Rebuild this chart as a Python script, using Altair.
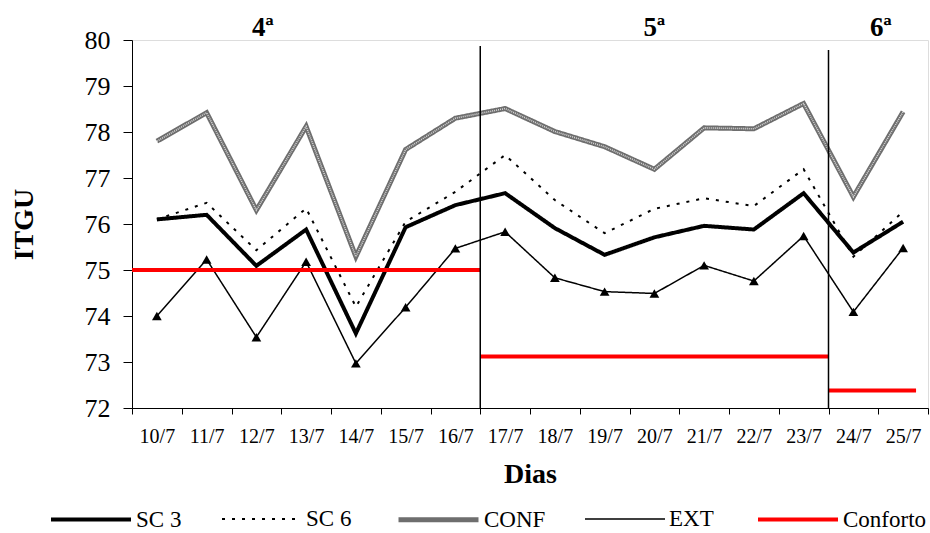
import altair as alt
import pandas as pd

dias = ["10/7", "11/7", "12/7", "13/7", "14/7", "15/7", "16/7", "17/7",
        "18/7", "19/7", "20/7", "21/7", "22/7", "23/7", "24/7", "25/7"]

sc3 = [76.10, 76.20, 75.09, 75.88, 73.62, 75.93, 76.41, 76.67,
       75.91, 75.33, 75.71, 75.96, 75.88, 76.67, 75.38, 76.05]
sc6 = [76.10, 76.46, 75.43, 76.34, 74.20, 76.05, 76.70, 77.50,
       76.52, 75.80, 76.33, 76.56, 76.39, 77.19, 75.29, 76.27]
conf = [77.80, 78.42, 76.30, 78.12, 75.29, 77.62, 78.30, 78.51,
        78.01, 77.68, 77.19, 78.09, 78.07, 78.62, 76.59, 78.44]
ext = [74.00, 75.23, 73.54, 75.18, 72.97, 74.19, 75.47, 75.83,
       74.83, 74.53, 74.49, 75.10, 74.76, 75.74, 74.09, 75.48]

# Conforto (comfort limit) per phase
conf_ini = ["10/7", "17/7"]
conf_fim = ["16/7", "23/7"]
conf_val = [75.0, 73.12]
conf6_ini = ["24/7"]
conf6_fim = ["25/7"]
conf6_val = [72.38]

# phase separators
sep_dia = ["17/7", "24/7"]
sep_top = [79.87, 79.78]

# phase labels
fase_txt = ["4ª", "5ª", "6ª"]
fase_dia = ["12/7", "20/7", "25/7"]

series = ["SC 3", "SC 6", "CONF", "EXT", "Conforto"]
colors = ["#000000", "#000000", "#6e6e6e", "#000000", "#ff0000"]
widths = [4, 2, 5, 1.5, 4]
dashes = [[1, 0], [3, 7], [1, 0], [1, 0], [1, 0]]

rows = []
for name, vals in [("SC 3", sc3), ("SC 6", sc6), ("CONF", conf), ("EXT", ext)]:
    for d, v in zip(dias, vals):
        rows.append({"dia": d, "valor": v, "serie": name})
df = pd.DataFrame(rows)
df_ext = df[df.serie == "EXT"]
df_confline = df[df.serie == "CONF"]

df_conf = pd.DataFrame({"dia": conf_ini, "fim": conf_fim, "valor": conf_val, "serie": "Conforto"})
df_conf6 = pd.DataFrame({"dia": conf6_ini, "fim": conf6_fim, "valor": conf6_val, "serie": "Conforto"})
df_sep = pd.DataFrame({"dia": sep_dia, "top": sep_top, "bot": [72, 72]})

xscale = alt.Scale(domain=dias, type="band", paddingInner=0, paddingOuter=0)
yscale = alt.Scale(domain=[72, 80], nice=False, zero=False)

color = alt.Color("serie:N", scale=alt.Scale(domain=series, range=colors),
                  legend=alt.Legend(title=None, orient="none", direction="horizontal",
                                    legendX=-83, legendY=437, symbolType="stroke",
                                    symbolSize=6400, labelFont="Liberation Serif",
                                    labelFontSize=23, labelColor="black",
                                    labelOffset=3, columnPadding=36, padding=0,
                                    symbolLimit=10, labelLimit=200))
sdash = alt.StrokeDash("serie:N", scale=alt.Scale(domain=series, range=dashes), legend=None)
swidth = alt.StrokeWidth("serie:N", scale=alt.Scale(type="ordinal", domain=series, range=widths),
                         legend=None)

xaxis = alt.Axis(title="Dias", tickBand="extent", labelAngle=0, tickSize=6,
                 labelFont="Liberation Serif", labelFontSize=20, labelColor="black",
                 labelPadding=12, titleFont="Liberation Serif", titleFontSize=28,
                 titleFontWeight="bold", titleColor="black", titlePadding=14,
                 domainColor="black", tickColor="black", grid=False)
yaxis = alt.Axis(title="ITGU", values=list(range(72, 81)), tickSize=9,
                 labelFont="Liberation Serif", labelFontSize=26, labelColor="black",
                 labelPadding=13, titleFont="Liberation Serif", titleFontSize=28,
                 titleFontWeight="bold", titleColor="black", titlePadding=46,
                 domainColor="black", tickColor="black", grid=False)

lines = alt.Chart(df).mark_line().encode(
    x=alt.X("dia:N", scale=xscale, axis=xaxis, sort=dias),
    y=alt.Y("valor:Q", scale=yscale, axis=yaxis),
    color=color, strokeDash=sdash, strokeWidth=swidth,
    detail="serie:N",
)

# light hatched core of the CONF line (texture)
conf_core = alt.Chart(df_confline).mark_line(color="#d8d8d8", strokeWidth=1.6,
                                             strokeDash=[1, 1]).encode(
    x=alt.X("dia:N", scale=xscale, sort=dias),
    y=alt.Y("valor:Q", scale=yscale),
)

pts = alt.Chart(df_ext).mark_point(shape="triangle-up", filled=True, size=95,
                                   color="black", opacity=1).encode(
    x=alt.X("dia:N", scale=xscale, sort=dias),
    y=alt.Y("valor:Q", scale=yscale),
)

rule_conf = alt.Chart(df_conf).mark_rule().encode(
    x=alt.X("dia:N", scale=xscale, bandPosition=0, sort=dias),
    x2=alt.X2("fim:N", bandPosition=1),
    y=alt.Y("valor:Q", scale=yscale),
    color=color, strokeDash=sdash, strokeWidth=swidth,
)
rule_conf6 = alt.Chart(df_conf6).mark_rule().encode(
    x=alt.X("dia:N", scale=xscale, bandPosition=0, sort=dias),
    x2=alt.X2("fim:N", bandPosition=0.76),
    y=alt.Y("valor:Q", scale=yscale),
    color=color, strokeDash=sdash, strokeWidth=swidth,
)

seps = alt.Chart(df_sep).mark_rule(color="black", strokeWidth=1.5).encode(
    x=alt.X("dia:N", scale=xscale, bandPosition=0, sort=dias),
    y=alt.Y("top:Q", scale=yscale),
    y2="bot:Q",
)

df_fase = pd.DataFrame({"dia": fase_dia, "txt": fase_txt, "y": [80.09] * 3,
                        "bp": [0.63, 0.5, 0.05]})
fase_layers = []
for i in range(3):
    fase_layers.append(
        alt.Chart(df_fase.iloc[[i]]).mark_text(font="Liberation Serif", fontSize=27,
                                              fontWeight="bold", baseline="alphabetic",
                                              color="black").encode(
            x=alt.X("dia:N", scale=xscale, bandPosition=float(df_fase.bp.iloc[i]), sort=dias),
            y=alt.Y("y:Q", scale=yscale),
            text="txt:N",
        )
    )

chart = alt.layer(lines, conf_core, pts, rule_conf, rule_conf6, seps, *fase_layers).properties(
    width=796, height=368,
    autosize=alt.AutoSizeParams(type="none"),
    padding={"left": 132, "top": 40, "right": 2, "bottom": 125},
).configure_view(stroke=None).configure_legend(
    labelFont="Liberation Serif", labelFontSize=23, labelColor="black"
).configure(background="white")

chart.save("out.html", embed_options={"renderer": "svg", "actions": False})
